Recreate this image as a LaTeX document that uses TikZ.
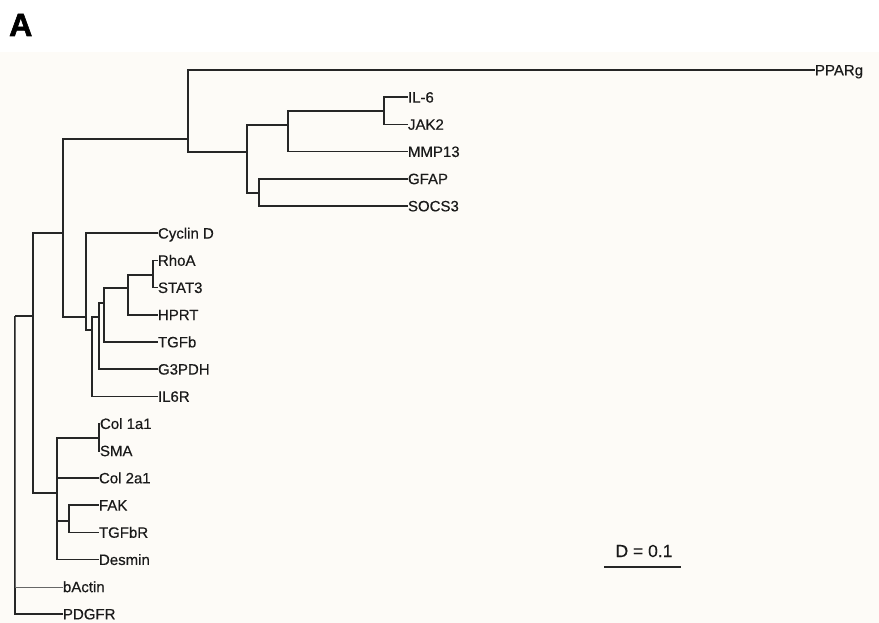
\documentclass[tikz,border=0pt]{standalone}
\usepackage{fontspec}
\setmainfont{Liberation Sans}
\newfontfamily\leaffont{Liberation Sans}[FakeBold=0.4]
\newfontfamily\heavyfont{Liberation Sans}[UprightFont={* Bold},UprightFeatures={FakeBold=2}]
\definecolor{linec}{HTML}{262626}
\definecolor{textc}{HTML}{1A1A1A}
\definecolor{paper}{HTML}{FDFBF7}
\begin{document}
\begin{tikzpicture}[x=1pt,y=-1pt,
  br/.style={draw=linec,line width=1.5pt},
  thinbr/.style={draw=linec!70,line width=0.6pt},
  leaf/.style={anchor=west,inner sep=0pt,outer sep=0pt,text=textc,
    font=\leaffont\fontsize{15}{18}\selectfont,text height=10.7pt,text depth=0pt}]
\useasboundingbox (0,0) rectangle (879,623);
\fill[white] (0,0) rectangle (879,623);
\fill[paper] (0,52) rectangle (879,623);
\node[anchor=base west,inner sep=0pt,text=black,font=\heavyfont\fontsize{32}{32}\selectfont] (title) at (9,36) {A};
% leaves
\node[leaf] (PPARg) at (815,70) {PPARg};
\node[leaf] (IL6) at (408,97.2) {IL-6};
\node[leaf] (JAK2) at (408,124.4) {JAK2};
\node[leaf] (MMP13) at (408,151.6) {MMP13};
\node[leaf] (GFAP) at (408,178.8) {GFAP};
\node[leaf] (SOCS3) at (408,206) {SOCS3};
\node[leaf] (CyclinD) at (158,233.2) {Cyclin D};
\node[leaf] (RhoA) at (158,260.4) {RhoA};
\node[leaf] (STAT3) at (158,287.6) {STAT3};
\node[leaf] (HPRT) at (158,314.8) {HPRT};
\node[leaf] (TGFb) at (158,342) {TGFb};
\node[leaf] (G3PDH) at (158,369.2) {G3PDH};
\node[leaf] (IL6R) at (158,396.4) {IL6R};
\node[leaf] (Col1a1) at (100,423.6) {Col 1a1};
\node[leaf] (SMA) at (100,450.8) {SMA};
\node[leaf] (Col2a1) at (99,478) {Col 2a1};
\node[leaf] (FAK) at (99,505.2) {FAK};
\node[leaf] (TGFbR) at (99,532.4) {TGFbR};
\node[leaf] (Desmin) at (99,559.6) {Desmin};
\node[leaf] (bActin) at (63,586.8) {bActin};
\node[leaf] (PDGFR) at (63,614) {PDGFR};
% internal nodes
\coordinate (r) at (15,316);
\coordinate (n33) at (33,316);
\coordinate (n63) at (63,233);
\coordinate (n188) at (188,139);
\coordinate (n247) at (247,152);
\coordinate (n288) at (288,125);
\coordinate (n384) at (384,111);
\coordinate (n259) at (259,193);
\coordinate (n86) at (86,317);
\coordinate (n92) at (92,330);
\coordinate (n99) at (99,317);
\coordinate (n104) at (104,303);
\coordinate (n128) at (128,288);
\coordinate (n153) at (153,275);
\coordinate (n57) at (57,493);
\coordinate (n99b) at (99,438);
\coordinate (n69) at (69,521);
% connectors
\draw[br] (r) |- (PDGFR.west);
\draw[thinbr] (r) |- (bActin.west);
\draw[br] (r) -- (n33);
\draw[br] (n33) |- (n63);
\draw[br] (n33) |- (n57);
\draw[br] (n63) |- (n188);
\draw[br] (n63) |- (n86);
\draw[br] (n188) |- (PPARg.west);
\draw[br] (n188) |- (n247);
\draw[br] (n247) |- (n288);
\draw[br] (n247) |- (n259);
\draw[br] (n288) |- (n384);
\draw[br] (n288) |- (MMP13.west);
\draw[br] (n384) |- (IL6.west);
\draw[br] (n384) |- (JAK2.west);
\draw[br] (n259) |- (GFAP.west);
\draw[br] (n259) |- (SOCS3.west);
\draw[br] (n86) |- (CyclinD.west);
\draw[br] (n86) |- (n92);
\draw[br] (n92) |- (n99);
\draw[br] (n92) |- (IL6R.west);
\draw[br] (n99) |- (n104);
\draw[br] (n99) |- (G3PDH.west);
\draw[br] (n104) |- (n128);
\draw[br] (n104) |- (TGFb.west);
\draw[br] (n128) |- (n153);
\draw[br] (n128) |- (HPRT.west);
\draw[br] (n153) |- (RhoA.west);
\draw[br] (n153) |- (STAT3.west);
\draw[br] (n57) |- (n99b);
\draw[br] (n57) |- (Col2a1.west);
\draw[br] (n57) |- (n69);
\draw[br] (n57) |- (Desmin.west);
\draw[br] (n99b) |- (Col1a1.west);
\draw[br] (n99b) |- (SMA.west);
\draw[br] (n69) |- (FAK.west);
\draw[br] (n69) |- (TGFbR.west);
% scale bar
\node[inner sep=0pt,text=textc,font=\leaffont\fontsize{17.5}{20}\selectfont] (dlab) at (644,551) {D = 0.1};
\coordinate (s1) at (604,567);
\coordinate (s2) at (681,567);
\draw[draw=linec,line width=2.2pt] (s1) -- (s2);
\end{tikzpicture}
\end{document}
